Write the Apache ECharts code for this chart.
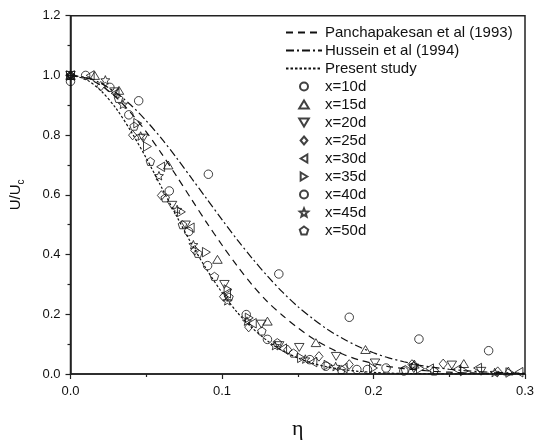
<!DOCTYPE html>
<html><head><meta charset="utf-8">
<script src="https://cdn.jsdelivr.net/npm/echarts@6/dist/echarts.min.js"></script>
<style>html,body{margin:0;padding:0;background:#fff}#c{width:543px;height:445px}</style>
</head><body><div id="c"></div>
<script>
// eta grid for the three reference curves
var etaGrid = [0,0.01,0.02,0.03,0.04,0.05,0.06,0.07,0.08,0.09,0.10,0.11,0.12,0.13,0.14,0.15,0.16,0.17,0.18,0.19,0.20,0.21,0.22,0.23,0.24,0.25,0.26,0.27,0.28,0.29,0.30];
var panchapakesan = [1,0.992,0.967,0.927,0.874,0.811,0.739,0.663,0.584,0.506,0.432,0.362,0.298,0.242,0.196,0.155,0.119,0.090,0.066,0.048,0.035,0.025,0.018,0.013,0.009,0.006,0.004,0.003,0.002,0.001,0.0005];
var hussein = [1,0.993,0.974,0.942,0.900,0.848,0.789,0.724,0.655,0.586,0.517,0.450,0.387,0.328,0.274,0.226,0.185,0.148,0.118,0.092,0.071,0.054,0.041,0.030,0.022,0.016,0.0115,0.008,0.0057,0.004,0.0026];
var present = [1,0.987,0.949,0.890,0.812,0.723,0.626,0.529,0.435,0.349,0.273,0.207,0.154,0.111,0.078,0.054,0.036,0.023,0.015,0.009,0.0055,0.003,0.002,0.001,0.0006,0.0004,0.0002,0.0001,0,0,0];

var lineNames = ['Panchapakesan et al (1993)','Hussein et al (1994)','Present study'];
var pointNames = ['x=10d','x=15d','x=20d','x=25d','x=30d','x=35d','x=40d','x=45d','x=50d'];

var x10 = [[0,0.98],[0.045,0.915],[0.091,0.669],[0.1375,0.335],[0.184,0.190],[0.230,0.117],[0.276,0.078]];
var x15 = [[0,1.0],[0.016,1.0],[0.032,0.95],[0.0645,0.70],[0.097,0.384],[0.130,0.177],[0.162,0.105],[0.1947,0.082],[0.227,0.033],[0.2596,0.035],[0.289,0.010]];
var x20 = [[0,1.0],[0.029,0.945],[0.048,0.79],[0.067,0.565],[0.076,0.499],[0.1016,0.30],[0.126,0.167],[0.1377,0.095],[0.151,0.089],[0.1753,0.059],[0.201,0.037],[0.2266,0.018],[0.2517,0.030],[0.271,0.009]];
var x25 = [[0,1.0],[0.020,0.964],[0.041,0.80],[0.060,0.598],[0.082,0.414],[0.101,0.259],[0.1176,0.157],[0.1434,0.081],[0.164,0.059],[0.184,0.032],[0.2254,0.032],[0.246,0.034],[0.282,0.008]];
var x30 = [[0,1.0],[0.013,1.0],[0.0294,0.94],[0.0595,0.694],[0.079,0.49],[0.103,0.27],[0.12,0.17],[0.14,0.085],[0.16,0.04],[0.18,0.02],[0.237,0.018],[0.255,0.015],[0.2687,0.02],[0.296,0.006]];
var x35 = [[0,1.0],[0.0444,0.84],[0.0508,0.762],[0.0732,0.543],[0.0897,0.408],[0.104,0.283],[0.118,0.188],[0.1525,0.054],[0.17,0.03],[0.2,0.02],[0.231,0.018],[0.26,0.01],[0.29,0.005]];
var x40 = [[0.01,1.0],[0.026,0.96],[0.0385,0.868],[0.0652,0.613],[0.078,0.477],[0.0905,0.363],[0.116,0.199],[0.130,0.116],[0.158,0.048],[0.1685,0.026],[0.189,0.015],[0.196,0.015],[0.2083,0.02],[0.22,0.01]];
var x45 = [[0,1.0],[0.023,0.985],[0.0346,0.903],[0.0463,0.797],[0.0584,0.664],[0.0704,0.551],[0.0811,0.433],[0.1035,0.245],[0.1165,0.177],[0.135,0.095],[0.155,0.05],[0.175,0.025],[0.2266,0.03],[0.28,0.005]];
var x50 = [[0,1.0],[0.0317,0.923],[0.042,0.83],[0.0527,0.712],[0.0625,0.59],[0.0739,0.50],[0.0841,0.404],[0.095,0.327],[0.1046,0.258],[0.1263,0.144],[0.1365,0.105],[0.1472,0.07],[0.1787,0.015],[0.221,0.015],[0.24,0.01]];

var xTicks = [0, 0.1, 0.2, 0.3];
var yTicks = [0, 0.2, 0.4, 0.6, 0.8, 1.0, 1.2];

var STAR = 'path://M0,-10 L2.6,-3.6 L9.51,-3.09 L4.2,1.4 L5.88,8.09 L0,4.4 L-5.88,8.09 L-4.2,1.4 L-9.51,-3.09 L-2.6,-3.6 Z';
var PENTA = 'path://M0,-10 L9.51,-3.09 L5.88,8.09 L-5.88,8.09 L-9.51,-3.09 Z';
var TRI_UP = 'path://M0,-8 L9,7 L-9,7 Z';
var TRI_DN = 'path://M-9,-7 L9,-7 L0,8 Z';
var TRI_LT = 'path://M-7,0 L8,-9 L8,9 Z';
var TRI_RT = 'path://M7,0 L-8,-9 L-8,9 Z';
var DIAM = 'path://M0,-10 L8.5,0 L0,10 L-8.5,0 Z';

function pair(a, b) { return a.map(function (v, i) { return [v, b[i]]; }); }

var lineStyles = [
  {type: [7, 5], width: 1.2},
  {type: [8, 3, 2, 3], width: 1.2},
  {type: [2.5, 2], width: 1.2}
];
var lineData = [panchapakesan, hussein, present];
var series = [];
lineNames.forEach(function (n, i) {
  series.push({
    name: n, type: 'line', data: pair(etaGrid, lineData[i]), symbol: 'none', showSymbol: false,
    smooth: 0.3, lineStyle: Object.assign({color: '#111'}, lineStyles[i]), itemStyle: {color: '#111'},
    z: 1, silent: true
  });
});
var pts = [x10, x15, x20, x25, x30, x35, x40, x45, x50];
var syms = ['circle', TRI_UP, TRI_DN, DIAM, TRI_LT, TRI_RT, 'circle', STAR, PENTA];
var sizes = [8.5, 9.5, 9.5, 9.5, 9.5, 9.5, 8.5, 9, 8.5];
pointNames.forEach(function (n, i) {
  series.push({
    name: n, type: 'scatter', data: pts[i], symbol: syms[i], symbolSize: sizes[i],
    symbolKeepAspect: true,
    itemStyle: {color: 'rgba(255,255,255,0)', borderColor: '#111', borderWidth: 1},
    z: 2
  });
});

var legendData = lineNames.map(function (n) {
  return {name: n, itemStyle: {color: 'rgba(0,0,0,0)', borderWidth: 0, opacity: 0}};
}).concat(pointNames.map(function (n) { return {name: n}; }));

var chart = echarts.init(document.getElementById('c'), null, {renderer: 'canvas'});
chart.setOption({
  animation: false,
  backgroundColor: '#fff',
  textStyle: {fontFamily: 'Liberation Sans, Arial, sans-serif'},
  grid: {left: 68.5, right: 18, top: 15.7, bottom: 64, show: true, borderColor: '#222', borderWidth: 1.5, backgroundColor: 'rgba(0,0,0,0)'},
  legend: {
    orient: 'vertical', left: 285, top: 25, padding: 0, itemWidth: 36, itemHeight: 8, itemGap: 3,
    symbolKeepAspect: true,
    data: legendData,
    textStyle: {fontSize: 15, color: '#111', fontFamily: 'Liberation Sans, Arial, sans-serif', padding: [0, 0, 0, -2]},
    selectedMode: false
  },
  xAxis: {
    type: 'value', min: xTicks[0], max: xTicks[xTicks.length - 1], interval: 0.1,
    name: 'η', nameLocation: 'middle', nameGap: 44,
    nameTextStyle: {fontSize: 22, color: '#111', fontFamily: 'Liberation Serif, DejaVu Serif, serif'},
    axisLine: {show: true, lineStyle: {color: '#222', width: 1.5}},
    axisTick: {show: true, inside: false, length: 5, lineStyle: {color: '#222', width: 1.2}},
    minorTick: {show: true, splitNumber: 2, length: 3, lineStyle: {color: '#222', width: 1.2}},
    axisLabel: {fontSize: 13, color: '#111', margin: 11, formatter: function (v) { return v.toFixed(1); }},
    splitLine: {show: false}
  },
  yAxis: {
    type: 'value', min: yTicks[0], max: yTicks[yTicks.length - 1], interval: 0.2,
    name: '{a|U/U}{b|c}', nameLocation: 'middle', nameGap: 44,
    nameTextStyle: {color: '#111', rich: {
      a: {fontSize: 15, color: '#111', fontFamily: 'Liberation Sans, Arial, sans-serif', lineHeight: 22, verticalAlign: 'middle'},
      b: {fontSize: 10, color: '#111', fontFamily: 'Liberation Sans, Arial, sans-serif', lineHeight: 22, verticalAlign: 'bottom', padding: [8, 0, 0, 0]}
    }},
    axisLine: {show: true, lineStyle: {color: '#222', width: 1.5}},
    axisTick: {show: true, inside: false, length: 5, lineStyle: {color: '#222', width: 1.2}},
    minorTick: {show: true, splitNumber: 2, length: 3, lineStyle: {color: '#222', width: 1.2}},
    axisLabel: {fontSize: 13, color: '#111', margin: 10, formatter: function (v) { return v.toFixed(1); }},
    splitLine: {show: false}
  },
  series: series
});
</script>
</body></html>
